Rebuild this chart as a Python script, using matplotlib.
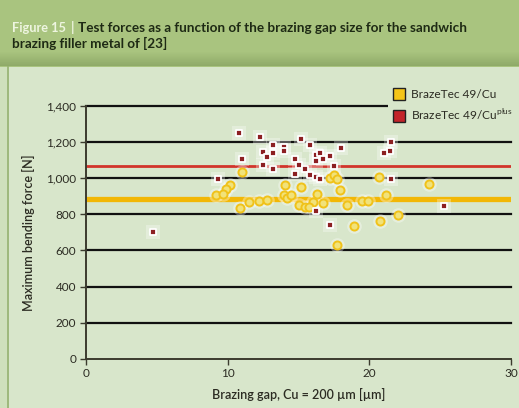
import matplotlib
matplotlib.use("Agg")
import matplotlib.pyplot as plt
from matplotlib.lines import Line2D
from matplotlib.patches import Rectangle

# ---- data ----
cu_x = [11.0, 10.15, 9.9, 9.2, 9.7, 10.9, 11.5, 12.2, 12.75, 17.2, 17.5, 17.7, 17.9,
        20.7, 24.2, 14.05, 15.2, 14.0, 14.2, 14.5, 16.3, 16.0, 15.0, 15.45, 15.75,
        16.75, 18.45, 19.45, 19.9, 21.2, 20.75, 22.0, 18.9, 17.7]
cu_y = [1034, 960, 940, 909, 910, 835, 868, 872, 879, 1001, 1016, 994, 935,
        1008, 968, 960, 953, 905, 892, 905, 910, 870, 850, 839, 838,
        861, 853, 875, 875, 905, 764, 798, 735, 632]
plus_x = [4.7, 10.8, 12.3, 11.0, 9.3, 13.2, 12.5, 12.75, 13.2, 12.5, 13.2, 14.0, 14.0,
          15.2, 15.8, 14.75, 15.05, 16.2, 16.5, 16.2, 16.75, 17.2, 18.0, 17.5, 15.45,
          14.75, 15.8, 16.2, 16.55, 21.5, 21.45, 21.0, 21.5, 25.3, 16.2, 17.2]
plus_y = [700, 1250, 1230, 1108, 997, 1186, 1147, 1119, 1141, 1075, 1049, 1171, 1149,
          1219, 1182, 1105, 1075, 1130, 1141, 1097, 1105, 1123, 1167, 1067, 1049,
          1022, 1016, 1008, 997, 1200, 1152, 1138, 997, 846, 820, 739]
mean_cu = 883
mean_plus = 1067
y_ticks = [0, 200, 400, 600, 800, 1000, 1200, 1400]
y_tick_labels = ["0", "200", "400", "600", "800", "1,000", "1,200", "1,400"]
x_ticks = [0, 10, 20, 30]
labels = ["BrazeTec 49/Cu", "BrazeTec 49/Cu$^{\\mathregular{plus}}$"]

# ---- style ----
W, H = 519, 408
panel = "#d8e6cb"
bar = "#a9c47f"
dark = "#2b2b22"
plt.rcParams["font.family"] = ["Lato", "DejaVu Sans"]

fig = plt.figure(figsize=(W / 100, H / 100), dpi=100)
fig.patch.set_facecolor(panel)

# title bar with darker lower band
fig.add_artist(Rectangle((0, 1 - 67 / H), 1, 67 / H, transform=fig.transFigure,
                         facecolor=bar, edgecolor="none", zorder=-2))
for i in range(14):
    fig.add_artist(Rectangle((0, 1 - (53 + i) / H), 1, 1 / H, transform=fig.transFigure,
                             facecolor="#5f7a3f", alpha=0.02 + 0.025 * i,
                             edgecolor="none", zorder=-1))
# left border
fig.add_artist(Rectangle((0, 0), 7 / W, 1 - 67 / H, transform=fig.transFigure,
                         facecolor="#cfe0bc", edgecolor="none", zorder=-1))
fig.add_artist(Line2D([7.5 / W, 7.5 / W], [0, 1 - 67 / H], transform=fig.transFigure,
                      color="#94b06e", lw=1.2, zorder=-1))

tfs = 9.7
fig.text(12 / W, 1 - 28 / H, "Figure 15", color="#eef5e0", fontsize=9.2,
         fontweight="bold", va="center", ha="left")
fig.text(71 / W, 1 - 28 / H, "|", color="#eef5e0", fontsize=tfs,
         fontweight="bold", va="center", ha="left")
fig.text(78 / W, 1 - 28 / H,
         "Test forces as a function of the brazing gap size for the sandwich",
         color="#1e2a14", fontsize=tfs, fontweight="bold", va="center", ha="left")
fig.text(12 / W, 1 - 43 / H, "brazing filler metal of [23]",
         color="#1e2a14", fontsize=tfs, fontweight="bold", va="center", ha="left")

ax = fig.add_axes([86 / W, 1 - 358.7 / H, (511 - 86) / W, (358.7 - 106) / H])
ax.set_facecolor(panel)
ax.set_xlim(0, 30)
ax.set_ylim(0, 1400)

for v in y_ticks[1:]:
    ax.axhline(v, color="#111111", lw=1.6, zorder=1, clip_on=False)
ax.axhline(mean_plus, color="#d2342b", lw=2.0, zorder=2)
ax.axhline(mean_cu, color="#f2b705", lw=3.8, zorder=2)

# halos
ax.scatter(cu_x, cu_y, s=110, color="#ffffff", alpha=0.35, lw=0, zorder=3)
ax.scatter(plus_x, plus_y, s=100, marker="s", color="#ffffff", alpha=0.3, lw=0, zorder=3)
ax.scatter(cu_x, cu_y, s=34, facecolor="#f1e27a", edgecolor="#f0c21a", lw=1.4, zorder=4)
ax.scatter(plus_x, plus_y, s=24, marker="s", facecolor="#8c1f22", edgecolor="#ffffff",
           lw=1.3, zorder=5)

for s in ["top", "right"]:
    ax.spines[s].set_visible(False)
for s in ["left", "bottom"]:
    ax.spines[s].set_color("#3b3b2e")
    ax.spines[s].set_linewidth(1.4)
    ax.spines[s].set_zorder(6)

ax.set_yticks(y_ticks)
ax.set_yticklabels(y_tick_labels)
ax.set_xticks(x_ticks)
ax.tick_params(axis="both", colors="#3b3b2e", labelcolor=dark, labelsize=8.5,
               length=4, width=1, direction="out", pad=3)
ax.set_ylabel("Maximum bending force [N]", fontsize=9, color=dark, labelpad=8,
              fontweight="semibold")
ax.set_xlabel("Brazing gap, Cu = 200 µm [µm]", fontsize=9, color=dark, labelpad=6,
              fontweight="semibold")

handles = [Line2D([], [], marker="s", ls="none", markersize=8, markerfacecolor="#f5c518",
                  markeredgecolor="#222222", markeredgewidth=1.0),
           Line2D([], [], marker="s", ls="none", markersize=8, markerfacecolor="#c3242a",
                  markeredgecolor="#222222", markeredgewidth=1.0)]
fig.legend(handles, labels, loc="upper left", bbox_to_anchor=(382 / W, 1 - 78 / H),
           frameon=True, facecolor=panel, edgecolor="none", framealpha=1,
           fontsize=8.6, handletextpad=0.5, labelspacing=0.6, borderpad=0.4,
           handlelength=1.0, labelcolor=dark)

fig.savefig("out.png", dpi=100, facecolor=fig.get_facecolor())
